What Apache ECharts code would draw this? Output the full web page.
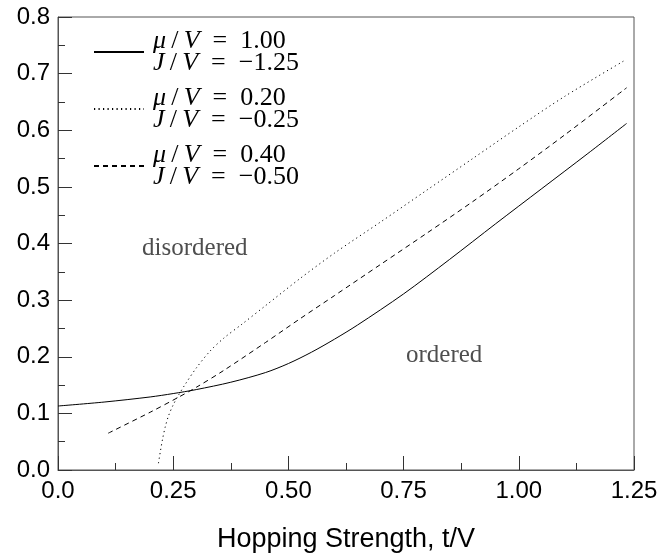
<!DOCTYPE html>
<html>
<head>
<meta charset="utf-8">
<script src="https://cdn.jsdelivr.net/npm/echarts@6/dist/echarts.min.js"></script>
<style>html,body{margin:0;padding:0;background:#fff}#c{width:663px;height:558px}</style>
</head>
<body>
<div id="c"></div>
<script>
// ---- data ----
const xTicks = [0, 0.25, 0.5, 0.75, 1.0, 1.25];
const yTicks = [0, 0.1, 0.2, 0.3, 0.4, 0.5, 0.6, 0.7, 0.8];

// solid: mu/V = 1.00, J/V = -1.25
const solidT = [0.0, 0.1, 0.2, 0.25, 0.3, 0.375, 0.45, 0.5, 0.55, 0.6, 0.65, 0.75, 0.85, 0.95, 1.05, 1.15, 1.234];
const solidV = [0.113, 0.120, 0.129, 0.135, 0.142, 0.155, 0.172, 0.188, 0.208, 0.231, 0.256, 0.311, 0.372, 0.435, 0.497, 0.559, 0.612];

// dotted: mu/V = 0.20, J/V = -0.25
const dotT = [0.218, 0.222, 0.227, 0.233, 0.24, 0.25, 0.26, 0.275, 0.30, 0.33, 0.36, 0.40, 0.45, 0.525, 0.6, 0.7, 0.8, 0.9, 1.0, 1.1, 1.227];
const dotV = [0.012, 0.032, 0.055, 0.077, 0.096, 0.115, 0.130, 0.150, 0.180, 0.210, 0.233, 0.258, 0.290, 0.338, 0.383, 0.438, 0.494, 0.550, 0.606, 0.660, 0.722];

// dashed: mu/V = 0.40, J/V = -0.50
const dashT = [0.109, 0.2, 0.258, 0.3, 0.36, 0.45, 0.525, 0.6, 0.7, 0.8, 0.9, 1.0, 1.1, 1.234];
const dashV = [0.065, 0.102, 0.127, 0.146, 0.176, 0.225, 0.267, 0.308, 0.363, 0.418, 0.474, 0.532, 0.592, 0.675];

const legendMu = ['1.00', '0.20', '0.40'];
const legendJ = ['\u22121.25', '\u22120.25', '\u22120.50'];
const seriesNames = ['s1', 's2', 's3'];

const annotations = [
  {name: 'disordered', t: 0.297, v: 0.392},
  {name: 'ordered', t: 0.838, v: 0.203}
];

const zip = (a, b) => a.map((x, i) => [x, b[i]]);

const serif = 'Liberation Serif';
const sans = 'Liberation Sans';

const chart = echarts.init(document.getElementById('c'), null, {renderer: 'canvas'});

const lineSeries = (name, t, v, type) => ({
  name: name,
  type: 'line',
  data: zip(t, v),
  showSymbol: false,
  symbol: 'none',
  smooth: 0.3,
  lineStyle: {color: '#000', width: 1, type: type},
  itemStyle: {color: '#000'},
  silent: true,
  animation: false
});

const TS = '\u2009', ES = '\u2002';

const option = {
  animation: false,
  grid: {left: 58, right: 29, top: 17, bottom: 79, show: true, borderColor: '#555', borderWidth: 1},
  legend: {
    orient: 'vertical',
    left: 88,
    top: 23,
    itemWidth: 50,
    itemHeight: 12,
    itemGap: 9,
    data: seriesNames,
    itemStyle: {color: 'rgba(0,0,0,0)', borderColor: 'rgba(0,0,0,0)', borderWidth: 0, opacity: 0},
    formatter: function (name) {
      const i = seriesNames.indexOf(name);
      return '{i|\u03bc}{n|' + TS + '/' + TS + '}{i|V}{n|' + ES + '=' + ES + legendMu[i] + '}\n' +
             '{i|J}{n|' + TS + '/' + TS + '}{i|V}{n|' + ES + '=' + ES + legendJ[i] + '}';
    },
    textStyle: {
      padding: [0, 0, 0, 4],
      rich: {
        i: {fontFamily: serif, fontStyle: 'italic', fontSize: 26, lineHeight: 22, color: '#000'},
        n: {fontFamily: serif, fontSize: 26, lineHeight: 22, color: '#000'}
      }
    }
  },
  xAxis: {
    type: 'value', min: 0, max: 1.25, interval: 0.25,
    name: 'Hopping Strength, t/V', nameLocation: 'middle', nameGap: 56,
    nameTextStyle: {fontFamily: sans, fontSize: 27, color: '#000'},
    axisLine: {show: true, lineStyle: {color: '#555', width: 1}},
    axisTick: {show: true, inside: true, length: 14, lineStyle: {color: '#333'}},
    minorTick: {show: true, splitNumber: 2, length: 7, lineStyle: {color: '#333'}},
    splitLine: {show: false},
    axisLabel: {
      fontFamily: sans, fontSize: 24, color: '#000', margin: 9,
      formatter: v => (v === 0 ? '0.0' : v.toFixed(2))
    }
  },
  yAxis: {
    type: 'value', min: 0, max: 0.8, interval: 0.1,
    axisLine: {show: true, lineStyle: {color: '#555', width: 1}},
    axisTick: {show: true, inside: true, length: 14, lineStyle: {color: '#333'}},
    minorTick: {show: true, splitNumber: 2, length: 7, lineStyle: {color: '#333'}},
    splitLine: {show: false},
    axisLabel: {
      fontFamily: sans, fontSize: 24, color: '#000', margin: 8,
      formatter: v => v.toFixed(1)
    }
  },
  series: [
    lineSeries(seriesNames[0], solidT, solidV, 'solid'),
    lineSeries(seriesNames[1], dotT, dotV, [1.2, 3.3]),
    lineSeries(seriesNames[2], dashT, dashV, [5, 4]),
    {
      type: 'scatter',
      data: annotations.map(a => ({name: a.name, value: [a.t, a.v]})),
      symbolSize: 0,
      silent: true,
      label: {
        show: true, position: 'inside', formatter: p => p.name,
        fontFamily: serif, fontSize: 25, color: '#222'
      }
    }
  ]
};
chart.setOption(option);
</script>
</body>
</html>
